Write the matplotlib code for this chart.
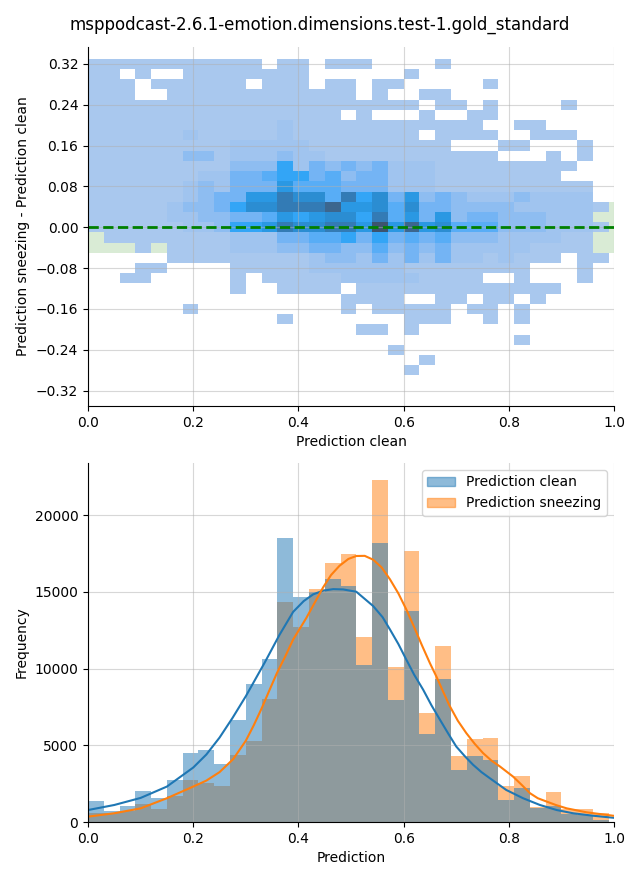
import numpy as np
import matplotlib
matplotlib.use("Agg")
import matplotlib.pyplot as plt
import seaborn as sns
from matplotlib.colors import ListedColormap
from matplotlib.patches import Patch

title = "msppodcast-2.6.1-emotion.dimensions.test-1.gold_standard"

# ---------------- top panel: 2D histogram (difference vs clean) ----------------
x_edges = np.linspace(0.0, 0.99, 34)          # 33 bins, width 0.03
row_top = [0.33 - 0.02 * k for k in range(31)]  # top edge of each row (from top)
# density level per cell ('.' = empty), rows from y=0.33 downwards, 33 columns
density_rows = [
    "11111111111.11.111....1..........",
    "11.1..11111111......1............",
    "111.111111.111.11.11.....1.......",
    "111..111111111111.1..11..........",
    "111111111111111111111.11.1....1..",
    "1111111111111111.1...1..11.......",
    "1111111111112111111111111..11....",
    "111111211111211111111.1111..111..",
    "11111111122222111111111...11...1.",
    "11111133122232211111111111...1.1.",
    "1111111113336243434222111111111..",
    "111111122445664534422211111111...",
    "11111123244475554442221111111111.",
    "11111123447798859684734322232222.",
    "111112334688999a77858443333222221",
    "111112233445767886957473443332 22.",
    "111111223667988997b7a785553332221",
    ".11111111222445564645453332222 11.",
    "...1.111122233443353434222221111.",
    ".....1111111112332424242212111.11",
    "...11....1111122222211111111...1.",
    "..11.....1.11111222221111..1...1.",
    ".........1..1111.1111111111111...",
    "................1111..11.11.1....",
    "......1.........1.11111.11.1.....",
    "............1.......111..1.1.....",
    ".................11.1............",
    "...........................1.....",
    "...................1.............",
    ".....................1...........",
    "....................1............",
]
level_counts = {"1": 15, "2": 50, "3": 110, "4": 190, "5": 260, "6": 330,
                "7": 440, "8": 530, "9": 670, "a": 850, "b": 1000}

# gold-standard band drawn below the histogram
gold_x_edges = [0.0, 1.0]
gold_y_edges = [-0.05, 0.05]
gold_counts = [[1]]

# ---------------- bottom panel: histograms ----------------
hist_edges = np.linspace(0.0, 0.99, 34)
clean_counts = [1370, 720, 1050, 2030, 1590, 2745, 4530, 4700, 3790, 6670, 9020,
                10650, 18500, 14660, 15010, 15820, 15360, 10260, 18170, 7970,
                13730, 5750, 9350, 3400, 4310, 4050, 1440, 2220, 900, 1070,
                520, 450, 150]
sneezing_counts = [570, 560, 700, 1180, 850, 1720, 2745, 2570, 2350, 4380, 5310,
                   8040, 14330, 12700, 15160, 16860, 17500, 12090, 22290, 10130,
                   17650, 7100, 11460, 4310, 5420, 5490, 2350, 3000, 1000, 1960,
                   850, 850, 560]

clean_kde_x = [0.0, 0.05, 0.1, 0.15, 0.2, 0.225, 0.25, 0.275, 0.3, 0.336, 0.364,
               0.39, 0.41, 0.428, 0.447, 0.466, 0.485, 0.51, 0.542, 0.56, 0.574,
               0.59, 0.605, 0.62, 0.637, 0.653, 0.669, 0.685, 0.7, 0.716, 0.732,
               0.748, 0.764, 0.795, 0.827, 0.859, 0.891, 0.922, 0.96, 0.998]
clean_kde_y = [780, 1110, 1570, 2310, 3550, 4400, 5500, 6800, 8200, 10400, 12200,
               13700, 14400, 14840, 15080, 15180, 15160, 15010, 14080, 13350, 12550,
               11600, 10590, 9600, 8630, 7600, 6670, 5750, 4920, 4300, 3730,
               3250, 2850, 2090, 1550, 1110, 780, 570, 410, 280]
sneezing_kde_x = [0.0, 0.05, 0.1, 0.15, 0.2, 0.225, 0.25, 0.276, 0.3, 0.315, 0.33,
                  0.345, 0.359, 0.375, 0.39, 0.415, 0.447, 0.462, 0.478, 0.495, 0.51,
                  0.526, 0.542, 0.558, 0.574, 0.59, 0.605, 0.62, 0.635, 0.65, 0.662,
                  0.675, 0.687, 0.703, 0.719, 0.735, 0.751, 0.767, 0.783, 0.808,
                  0.825, 0.84, 0.855, 0.872, 0.89, 0.91, 0.948, 0.998]
sneezing_kde_y = [350, 570, 890, 1550, 2310, 2700, 3250, 4100, 5300, 6300, 7400,
                  8600, 9700, 10800, 11900, 13300, 15300, 16100, 16700, 17150, 17340,
                  17350, 17100, 16600, 15820, 14900, 13860, 12700, 11500, 10350, 9500,
                  8500, 7600, 6600, 5800, 5100, 4490, 4000, 3620, 2960,
                  2400, 1880, 1550, 1330, 1100, 890, 630, 410]

# ------------------------------------------------------------------
fig = plt.figure(figsize=(6.4, 8.8), dpi=100)
ax1 = fig.add_axes([0.1375, 0.5386, 0.822, 0.408])
ax2 = fig.add_axes([0.1375, 0.0659, 0.822, 0.408])
fig.suptitle(title, fontsize=12, y=0.982)

# top panel
ax1.pcolormesh(gold_x_edges, gold_y_edges, np.array(gold_counts),
               cmap=ListedColormap(["#d9ebd5"]), zorder=0.9)

xc, yc, wts = [], [], []
for k, row in enumerate(density_rows):
    row = row.replace(" ", "")
    for c, ch in enumerate(row):
        if ch in level_counts:
            xc.append(0.5 * (x_edges[c] + x_edges[c + 1]))
            yc.append(row_top[k] - 0.01)
            wts.append(level_counts[ch])
y_edges = np.array(sorted(row_top + [row_top[-1] - 0.02]))
sns.histplot(x=xc, y=yc, weights=wts, bins=[x_edges, y_edges], ax=ax1, color="#1f77b4")
ax1.axhline(0, color="green", ls="--", lw=2)
ax1.set_xlim(0, 1)
ax1.set_ylim(-0.35, 0.353)
ax1.set_yticks([-0.32, -0.24, -0.16, -0.08, 0.0, 0.08, 0.16, 0.24, 0.32])
ax1.set_xlabel("Prediction clean")
ax1.set_ylabel("Prediction sneezing - Prediction clean")
ax1.grid(True, color="#b0b0b0", alpha=0.5)

# bottom panel
centers = 0.5 * (hist_edges[:-1] + hist_edges[1:])
ax2.hist(centers, bins=hist_edges, weights=sneezing_counts, color="C1", alpha=0.5)
ax2.hist(centers, bins=hist_edges, weights=clean_counts, color="C0", alpha=0.5)
ax2.plot(clean_kde_x, clean_kde_y, color="C0", lw=1.5)
ax2.plot(sneezing_kde_x, sneezing_kde_y, color="C1", lw=1.5)
ax2.set_xlim(0, 1)
ax2.set_xlabel("Prediction")
ax2.set_ylabel("Frequency")
ax2.grid(True, color="#b0b0b0", alpha=0.5)
ax2.legend(handles=[Patch(color="C0", alpha=0.5, label="Prediction clean"),
                    Patch(color="C1", alpha=0.5, label="Prediction sneezing")],
           loc="upper right")

for ax in (ax1, ax2):
    ax.spines["top"].set_visible(False)
    ax.spines["right"].set_visible(False)

fig.savefig("out.png", dpi=100)
